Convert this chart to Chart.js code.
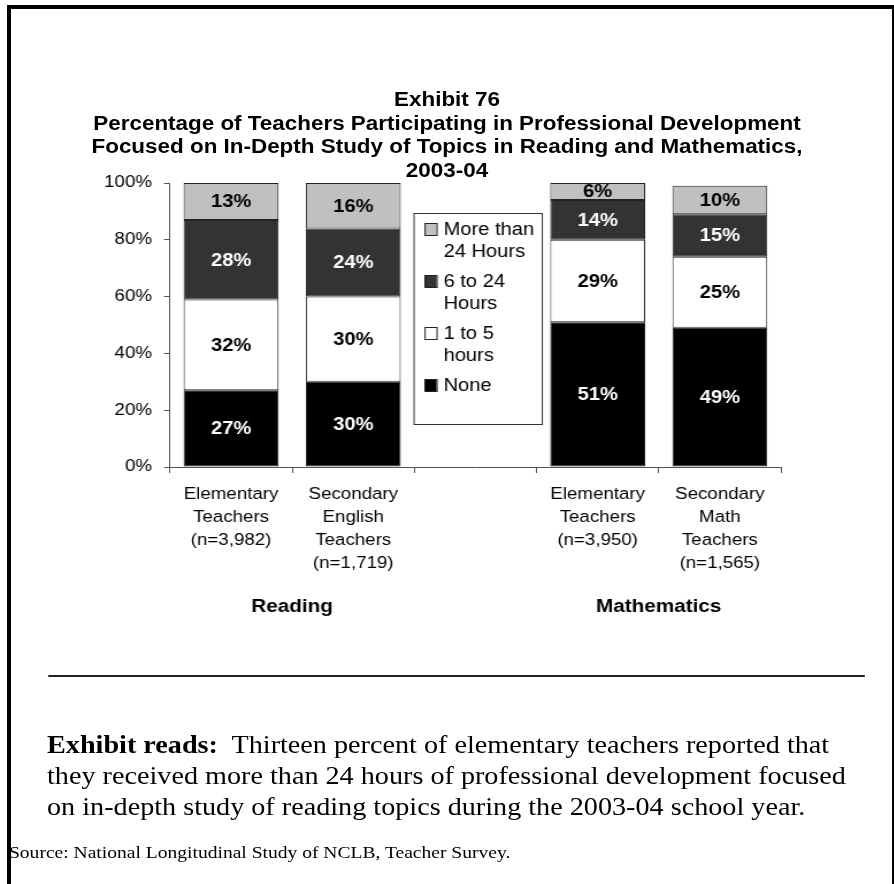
<!DOCTYPE html>
<html><head><meta charset="utf-8">
<script src="https://cdn.jsdelivr.net/npm/chart.js@4/dist/chart.umd.min.js"></script>
<style>
html,body{margin:0;padding:0;background:#fff;width:894px;height:884px;overflow:hidden;}
#frame{position:absolute;left:7px;top:5px;width:889px;height:900px;border:4px solid #000;box-sizing:border-box;}
#page{position:absolute;left:0;top:0;width:777.4px;height:884px;transform:scaleX(1.15);transform-origin:0 0;}
#title{position:absolute;left:0;top:88px;width:777.4px;text-align:center;font:bold 19.5px/23.5px "Liberation Sans",Arial,sans-serif;color:#000;}
#chartbox{position:absolute;left:0;top:160px;width:777px;height:480px;}
#rule{position:absolute;left:41.7px;top:675px;width:710.5px;height:2px;background:#222;}
#reads{position:absolute;left:40.9px;top:728.5px;font:24.5px/31px "Liberation Serif","Times New Roman",serif;color:#000;white-space:nowrap;}
#source{position:absolute;left:7.8px;top:843px;font:17px/20px "Liberation Serif","Times New Roman",serif;color:#000;white-space:nowrap;}
</style>
</head>
<body>
<div id="frame"></div>
<div id="page">
  <div id="title">Exhibit 76<br>Percentage of Teachers Participating in Professional Development<br>Focused on In-Depth Study of Topics in Reading and Mathematics,<br>2003-04</div>
  <div id="chartbox"><canvas id="c" width="777" height="480"></canvas></div>
  <div id="rule"></div>
  <div id="reads"><b>Exhibit reads:</b>&nbsp; Thirteen percent of elementary teachers reported that<br>they received more than 24 hours of professional development focused<br>on in-depth study of reading topics during the 2003-04 school year.</div>
  <div id="source">Source: National Longitudinal Study of NCLB, Teacher Survey.</div>
</div>
<script>
const categories = [
  ['Elementary', 'Teachers', '(n=3,982)'],
  ['Secondary', 'English', 'Teachers', '(n=1,719)'],
  '',
  ['Elementary', 'Teachers', '(n=3,950)'],
  ['Secondary', 'Math', 'Teachers', '(n=1,565)']
];
const groupLabels = ['Reading', 'Mathematics'];
const seriesNames = ['None', '1 to 5 hours', '6 to 24 Hours', 'More than 24 Hours'];
const legendLines = [['None'], ['1 to 5', 'hours'], ['6 to 24', 'Hours'], ['More than', '24 Hours']];
const noneValues = [27, 30, null, 51, 49];
const oneToFiveValues = [32, 30, null, 29, 25];
const sixTo24Values = [28, 24, null, 14, 15];
const moreThan24Values = [13, 16, null, 6, 10];
const yTicks = [0, 20, 40, 60, 80, 100];

const SANS = '"Liberation Sans", Arial, sans-serif';
const fills = ['#000000', '#ffffff', '#333333', '#c0c0c0'];
const labelColors = ['#ffffff', '#000000', '#ffffff', '#000000'];

const valueLabels = {
  id: 'valueLabels',
  afterDatasetsDraw(chart) {
    const ctx = chart.ctx;
    ctx.save();
    ctx.font = 'bold 17.5px ' + SANS;
    ctx.textAlign = 'center';
    ctx.textBaseline = 'middle';
    chart.data.datasets.forEach((ds, i) => {
      const meta = chart.getDatasetMeta(i);
      meta.data.forEach((bar, j) => {
        const v = ds.data[j];
        if (v === null || v === undefined) return;
        const p = bar.getProps(['x', 'y', 'base'], true);
        ctx.fillStyle = labelColors[i];
        ctx.fillText(v + '%', p.x, (p.y + p.base) / 2 + 1);
      });
    });
    ctx.restore();
  }
};

const extras = {
  id: 'extras',
  afterDraw(chart) {
    const ctx = chart.ctx;
    const xs = chart.scales.x;
    const area = chart.chartArea;
    ctx.save();
    // group labels
    ctx.font = 'bold 18px ' + SANS;
    ctx.fillStyle = '#000';
    ctx.textAlign = 'center';
    ctx.textBaseline = 'middle';
    ctx.fillText(groupLabels[0], xs.getPixelForValue(0.5), area.bottom + 140);
    ctx.fillText(groupLabels[1], xs.getPixelForValue(3.5), area.bottom + 140);
    // legend box in the empty slot
    const xc = xs.getPixelForValue(2);
    const left = xc - 53.9, top = area.top + 30, w = 111.5, h = 211;
    ctx.fillStyle = '#fff';
    ctx.fillRect(left, top, w, h);
    ctx.strokeStyle = '#333';
    ctx.lineWidth = 1;
    ctx.strokeRect(left + 0.5, top + 0.5, w, h);
    ctx.font = '17.5px ' + SANS;
    ctx.textAlign = 'left';
    const order = [3, 2, 1, 0];
    order.forEach((di, k) => {
      const y0 = top + 16 + k * 52;
      ctx.fillStyle = fills[di];
      ctx.fillRect(left + 9.6, y0 - 6, 10.4, 12);
      ctx.strokeStyle = '#222';
      ctx.strokeRect(left + 9.6 + 0.5, y0 - 6 + 0.5, 10.4, 12);
      ctx.fillStyle = '#000';
      legendLines[di].forEach((ln, li) => {
        ctx.fillText(ln, left + 26.1, y0 + li * 22.5 + 1);
      });
    });
    ctx.restore();
  }
};

const seriesData = [noneValues, oneToFiveValues, sixTo24Values, moreThan24Values];

new Chart(document.getElementById('c'), {
  type: 'bar',
  data: {
    labels: categories,
    datasets: seriesData.map((d, i) => ({
      label: seriesNames[i],
      data: d,
      backgroundColor: fills[i],
      borderColor: '#222',
      borderWidth: 1,
      borderSkipped: false,
      barPercentage: 0.777,
      categoryPercentage: 1
    }))
  },
  options: {
    responsive: false,
    animation: false,
    devicePixelRatio: 1,
    layout: { padding: { top: 23, right: 97.9, bottom: 0, left: 0 } },
    plugins: { legend: { display: false }, tooltip: { enabled: false } },
    scales: {
      x: {
        stacked: true,
        offset: true,
        grid: { offset: true, drawOnChartArea: false, drawTicks: true, tickLength: 6, color: '#555' },
        border: { display: true, color: '#555', width: 1 },
        ticks: { autoSkip: false, maxRotation: 0, minRotation: 0, padding: 10, color: '#000',
                 font: { family: SANS, size: 16.3, lineHeight: 1.41 } },
        afterFit(s) { s.height = 173; }
      },
      y: {
        stacked: true,
        min: 0, max: 100,
        afterBuildTicks(s) { s.ticks = yTicks.map(v => ({ value: v })); },
        ticks: { color: '#000', padding: 10.4, callback: v => v + '%',
                 font: { family: SANS, size: 16.3 } },
        grid: { drawOnChartArea: false, drawTicks: true, tickLength: 5.2, color: '#555' },
        border: { display: true, color: '#555', width: 1 },
        afterFit(s) { s.width = 147.8; }
      }
    }
  },
  plugins: [valueLabels, extras]
});
</script>
</body></html>
